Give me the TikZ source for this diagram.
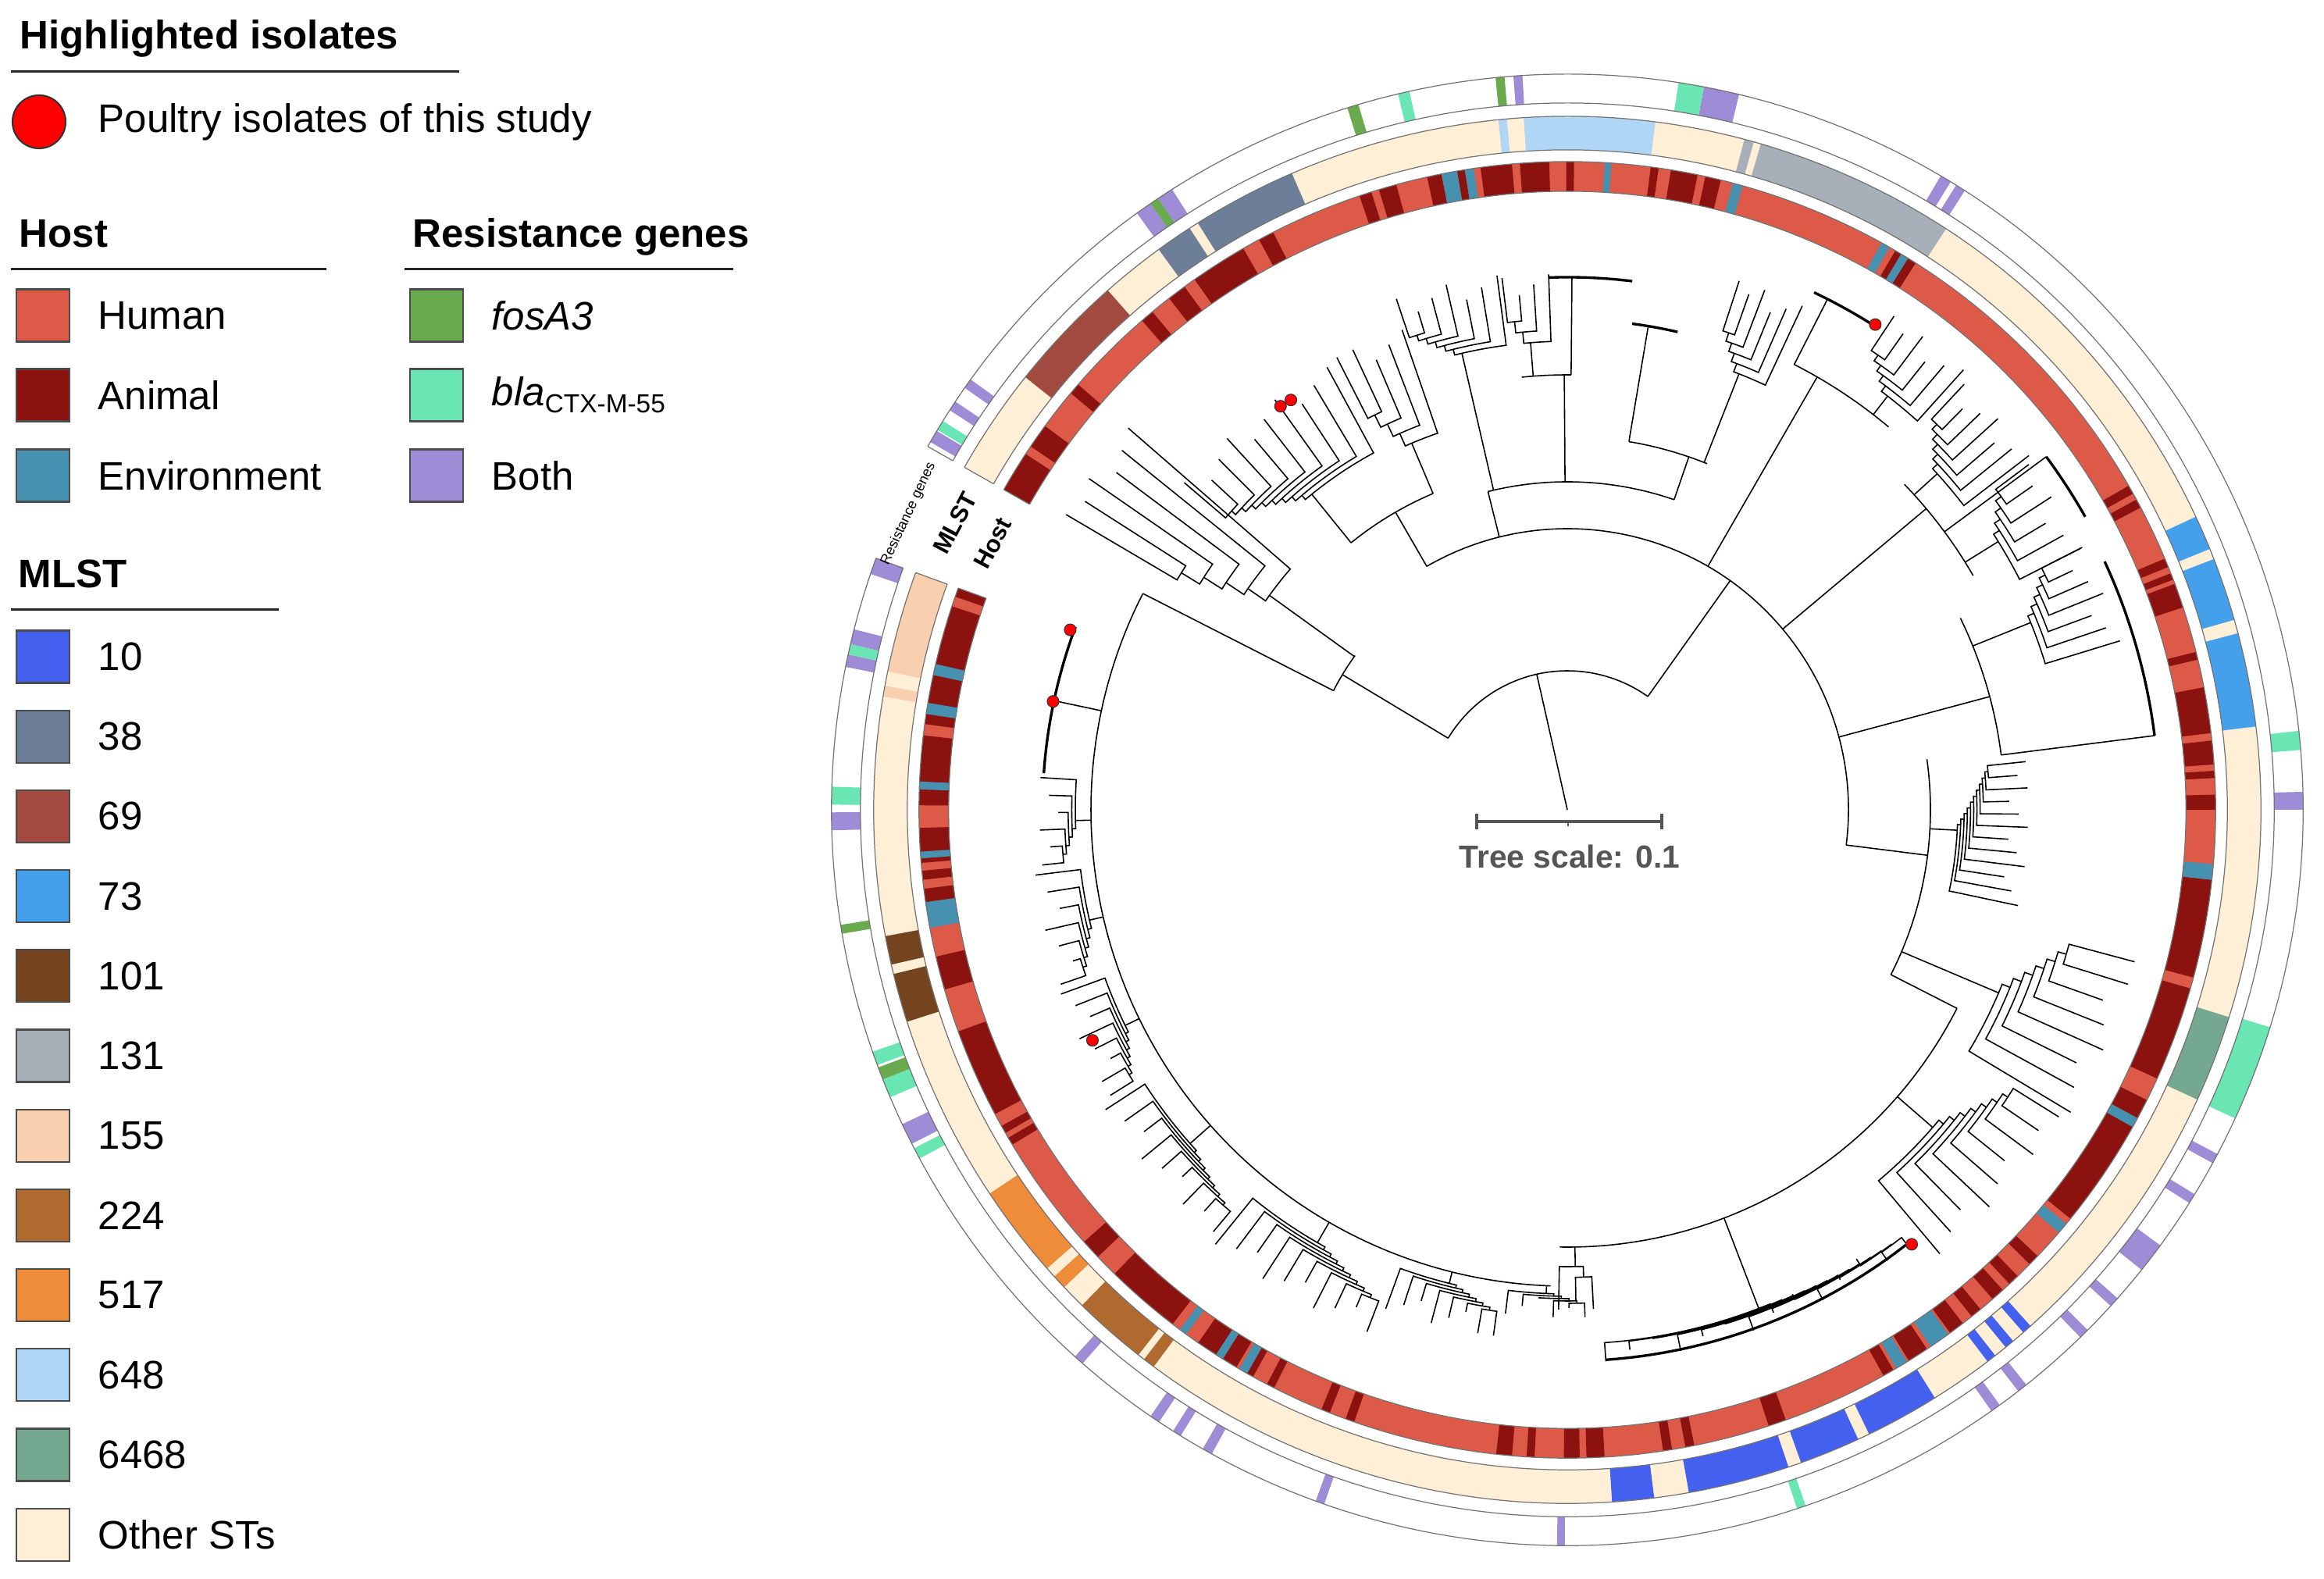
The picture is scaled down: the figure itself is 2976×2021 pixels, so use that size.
\documentclass[tikz,border=0pt]{standalone}
\usepackage{fontspec}
\setmainfont{Liberation Sans}
\usetikzlibrary{positioning}

\definecolor{human}{RGB}{222,90,72}
\definecolor{animal}{RGB}{140,18,16}
\definecolor{environ}{RGB}{70,145,175}
\definecolor{fosgreen}{RGB}{106,170,78}
\definecolor{blagreen}{RGB}{106,230,180}
\definecolor{both}{RGB}{158,140,214}
\definecolor{stten}{RGB}{68,96,238}
\definecolor{stthirtyeight}{RGB}{108,126,152}
\definecolor{stsixtynine}{RGB}{163,74,64}
\definecolor{stseventythree}{RGB}{69,160,236}
\definecolor{stoneohone}{RGB}{116,68,30}
\definecolor{stonethirtyone}{RGB}{167,176,184}
\definecolor{stonefiftyfive}{RGB}{248,208,176}
\definecolor{sttwotwentyfour}{RGB}{176,105,46}
\definecolor{stfiveseventeen}{RGB}{238,140,58}
\definecolor{stsixfortyeight}{RGB}{176,214,246}
\definecolor{stsixtyfoursixtyeight}{RGB}{116,168,144}
\definecolor{stother}{RGB}{254,239,214}
\definecolor{scalegray}{RGB}{85,85,85}

% one coloured piece of a ring: start angle, end angle, inner r, outer r, colour
\newcommand{\ringseg}[5]{\fill[#5] (#1:#3) arc[start angle=#1,end angle=#2,radius=#3] -- (#2:#4) arc[start angle=#2,end angle=#1,radius=#4] -- cycle;}
% a ladderised clade: from angle, to angle, parent r, base r, tip r, number of tips
\newcommand{\ladder}[6]{%
  \pgfmathsetmacro{\ldt}{(#2-#1)/(#6-1)}%
  \pgfmathsetmacro{\ldr}{(#5-#4)*0.5/(#6-1)}%
  \pgfmathsetmacro{\ldm}{(#1+#2)/2}%
  \draw[branch] (\ldm:#3) -- (\ldm:#4);
  \pgfmathtruncatemacro{\ldlast}{#6-2}%
  \foreach \k in {0,...,\ldlast}{%
    \pgfmathsetmacro{\lta}{#1+\k*\ldt}%
    \pgfmathsetmacro{\lrk}{#4+\k*\ldr}%
    \pgfmathsetmacro{\lrn}{#4+(\k+1)*\ldr}%
    \pgfmathsetmacro{\ltip}{#5-12*mod(\k,3)}%
    \ifnum\k<\ldlast
      \pgfmathsetmacro{\lte}{(#1+(\k+1)*\ldt+#2)/2}%
      \draw[branch] (\lta:\ltip) -- (\lta:\lrk) arc[start angle=\lta,end angle=\lte,radius=\lrk] -- (\lte:\lrn);
    \else
      \draw[branch] (\lta:\ltip) -- (\lta:\lrk) arc[start angle=\lta,end angle=#2,radius=\lrk] -- (#2:#5);
    \fi
  }}

\begin{document}
\begin{tikzpicture}[x=0.01cm,y=0.01cm,
  legtext/.style={inner sep=0pt,font=\fontsize{14.5}{17}\selectfont},
  leghead/.style={inner sep=0pt,anchor=base west,font=\fontsize{14.5}{17}\selectfont\bfseries},
  legbox/.style={draw=black!70,line width=0.6pt,minimum width=0.68cm,minimum height=0.67cm,inner sep=0pt},
  legrule/.style={line width=0.85pt,black!85},
  branch/.style={draw=black,line width=0.45pt},
  tipband/.style={draw=black,line width=0.95pt},
  ringline/.style={draw=black!55,line width=0.35pt},
  isolate/.style={circle,fill=red,draw=black!80,line width=0.3pt,inner sep=0pt,minimum size=0.15cm}]
\useasboundingbox (0,0) rectangle (2976,2021);

% ---------------- legend ----------------
\node[leghead] (hlhead) at (25,1958) {Highlighted isolates};
\draw[legrule] (14,1929.5) -- (588,1929.5);
\node[circle,fill=red,draw=black!80,line width=0.6pt,minimum size=0.68cm,inner sep=0pt] (hldot) at (50,1865) {};
\node[legtext,anchor=west,right=0.4cm of hldot] (hltext) {Poultry isolates of this study};

\node[leghead] (hosthead) at (24,1704) {Host};
\draw[legrule] (14,1676) -- (418,1676);
\node[leghead] (reshead) at (528,1704) {Resistance genes};
\draw[legrule] (518,1676) -- (939,1676);

\node[legbox,fill=human] (sqhuman) at (55,1617) {};
\node[legbox,fill=animal] (sqanimal) at (55,1515) {};
\node[legbox,fill=environ] (sqenv) at (55,1412) {};
\node[legtext,anchor=west,right=0.35cm of sqhuman] {Human};
\node[legtext,anchor=west,right=0.35cm of sqanimal] {Animal};
\node[legtext,anchor=west,right=0.35cm of sqenv] {Environment};

\node[legbox,fill=fosgreen] (sqfos) at (559,1617) {};
\node[legbox,fill=blagreen] (sqbla) at (559,1515) {};
\node[legbox,fill=both] (sqboth) at (559,1412) {};
\node[legtext,anchor=west,right=0.35cm of sqfos] {\itshape fosA3};
\node[legtext,anchor=west,right=0.35cm of sqbla] {\itshape bla\upshape\raisebox{-2.5pt}{\fontsize{9.5}{10}\selectfont CTX-M-55}};
\node[legtext,anchor=west,right=0.35cm of sqboth] {Both};

\node[leghead] (mlsthead) at (23,1268) {MLST};
\draw[legrule] (14,1240) -- (357,1240);
\foreach \st/\col [count=\i from 0] in {10/stten,38/stthirtyeight,69/stsixtynine,73/stseventythree,
    101/stoneohone,131/stonethirtyone,155/stonefiftyfive,224/sttwotwentyfour,517/stfiveseventeen,
    648/stsixfortyeight,6468/stsixtyfoursixtyeight,Other STs/stother}{
  \node[legbox,fill=\col] (sq\i) at (55,1180-\i*102.2) {};
  \node[legtext,anchor=west,right=0.35cm of sq\i] {\st};
}

% ---------------- circular tree ----------------
\begin{scope}[shift={(2007,984)}]
% host ring
\ringseg{160}{510.4}{792}{830}{human}
\foreach \a/\b in {160/160.8,161.7/172.4,173.4/179.6,181.6/184.7,185.4/186.2,187.0/188.2,193.1/196.1,
  200.0/208.0,209.2/209.9,210.4/211.1,221.8/223.6,225.7/232.5,235.3/237.2,237.9/239.3,240.4/241.0,
  242.4/243.1,247.7/248.5,250.0/250.8,263.7/265.1,266.4/267.1,269.7/271.1,271.7/273.3,278.5/279.3,
  280.5/281.3,288.1/289.7,299.2/300.2,301.8/303.7,306.2/307.6,308.6/309.6,311.0/312.2,313.0/314.0,
  315.5/316.5,320.9/331.1,331.6/333.4,335.5/344.0,345.0/353.8,360/361.34,362.81/363.45,364.01/366.13,
  366.8/370.9,373.4/374.1,378.2/380.4,380.8/381.4,382.0/382.8,387.8/388.6,389.2/390.0,417.5/418.3,
  419.0/419.6,436.3/437.7,438.4/440.8,441.9/442.6,449.4/450.1,451.6/454.2,454.9/457.7,459.1/459.8,
  461.2/462.5,465.3/466.9,467.6/468.7,477.0/478.4,480.0/485.1,486.2/487.9,489.8/491.0,499.0/500.0,
  503.7/505.9,506.7/510.4}{\ringseg{\a}{\b}{792}{830}{animal}}
\foreach \a/\b in {167/168,170.5/171.5,177.5/178.2,183.7/184.3,188.2/190.5,233.3/234.0,237.2/237.9,
  239.6/240.4,300.5/301.6,304.1/306.0,319.3/320.3,330.7/331.6,353.8/355.2,418.3/419.0,420.2/421.0,
  434.3/435.2,446.1/446.7,458.3/459.1,459.8/461.2}{\ringseg{\a}{\b}{792}{830}{environ}}

% MLST ring
\ringseg{160}{510.4}{845}{888}{stother}
\foreach \a/\b/\c in {160/168.5/stonefiftyfive,169.7/170.6/stonefiftyfive,190.5/192.9/stoneohone,
  193.7/197.8/stoneohone,213.6/221.4/stfiveseventeen,222.3/223.5/stfiveseventeen,
  225.6/231.8/sttwotwentyfour,232.4/233.4/sttwotwentyfour,273.7/277.2/stten,280.1/288.6/stten,
  289.7/294.8/stten,295.8/302.0/stten,307.3/308.1/stten,309.2/310.0/stten,311.1/311.9/stten,
  335.3/342.6/stsixtyfoursixtyeight,366.9/374.75/stseventythree,375.9/381.2/stseventythree,
  382.1/385.0/stseventythree,416.9/433.8/stonethirtyone,434.4/435.2/stonethirtyone,
  442.7/453.6/stsixfortyeight,455.0/455.7/stsixfortyeight,473.4/482.2/stthirtyeight,
  483.0/486.1/stthirtyeight,491.5/501.4/stsixtynine}{\ringseg{\a}{\b}{845}{888}{\c}}

% resistance genes ring
\foreach \a/\b in {160.0/161.3,165.8/167.0,167.8/168.8,180.2/181.6,205.3/207.0,228.0/228.8,235.5/236.3,
  237.6/238.3,240.3/241.1,250.0/250.7,269.2/269.8,305.2/306.0,307.8/308.6,314.2/315.0,317.6/318.4,
  321.3/323.7,327.7/328.5,331.3/332.1,360.0/361.4,417.3/418.1,418.6/419.5,436.5/439.3,453.5/454.2,
  482.5/483.8,484.5/485.8,504.2/505.0,506.3/507.1,509.0/510.0}{\ringseg{\a}{\b}{905}{942}{both}}
\foreach \a/\b in {167.0/167.8,178.2/179.6,199.2/200.3,201.5/203.0,207.4/208.3,288.2/288.9,335.2/342.8,
  364.67/366.16,439.3/441.3,462.4/463.3,508.1/508.9}{\ringseg{\a}{\b}{905}{942}{blagreen}}
\foreach \a/\b in {189.0/189.7,200.5/201.5,454.9/455.6,466.5/467.4,483.8/484.5}{\ringseg{\a}{\b}{905}{942}{fosgreen}}

% ring outlines
\foreach \r in {792,830,845,888,905,942}{
  \draw[ringline] (160:\r) arc[start angle=160,end angle=510.4,radius=\r];}
\foreach \a in {160,510.4}{
  \draw[ringline] (\a:792) -- (\a:830) (\a:845) -- (\a:888) (\a:905) -- (\a:942);}

% ring titles in the gap
\node[rotate=62,inner sep=0pt,font=\fontsize{8.8}{10}\selectfont\bfseries] (hostlbl) at (155.1:811) {Host};
\node[rotate=62,inner sep=0pt,font=\fontsize{8.8}{10}\selectfont\bfseries] (mlstlbl) at (154.9:866) {MLST};
\node[rotate=65,inner sep=0pt,font=\fontsize{5.1}{6}\selectfont] (reslbl) at (155.8:925) {Resistance genes};

% ---- tree: root and first split
\coordinate (root) at (0,0);
\draw[branch] (root) -- (102.7:178);
\draw[branch] (54.6:178) arc[start angle=54.6,end angle=149,radius=178];
% ---- left subtree
\draw[branch] (149:178) -- (149:336);
\draw[branch] (144:336) arc[start angle=144,end angle=153,radius=336];
\ladder{139}{149.5}{336}{470}{745}{6}
\draw[branch] (153:336) -- (153:610);
\draw[branch] (153:610) arc[start angle=153,end angle=268,radius=610];
\draw[branch] (168:610) -- (168:672);
\draw[tipband] (159.6:672) arc[start angle=159.6,end angle=176,radius=672];
\ladder{176.5}{186}{610}{630}{676}{6}
\ladder{187}{199}{610}{628}{686}{7}
\ladder{200}{212}{610}{630}{690}{8}
\ladder{213}{230}{610}{645}{705}{9}
\ladder{231}{249}{610}{640}{716}{10}
\ladder{250}{262}{610}{625}{680}{8}
\ladder{263}{272}{610}{620}{650}{6}
% ---- right subtree
\draw[branch] (54.6:178) -- (54.6:360);
\draw[branch] (-7.2:360) arc[start angle=-7.2,end angle=120,radius=360];
% clade with the two upper isolates
\draw[branch] (120:360) -- (120:440);
\draw[branch] (113:440) arc[start angle=113,end angle=129,radius=440];
\ladder{109}{117}{440}{510}{650}{5}
\ladder{118.5}{139.5}{440}{520}{645}{10}
% top clades
\draw[branch] (104:360) -- (104:420);
\draw[branch] (71:420) arc[start angle=71,end angle=104,radius=420];
\ladder{97.5}{108.5}{420}{600}{690}{7}
\draw[branch] (90.4:420) -- (90.4:557);
\draw[branch] (89.5:557) arc[start angle=89.5,end angle=96,radius=557];
\draw[branch] (89.5:557) -- (89.5:682);
\draw[tipband] (83:682) arc[start angle=83,end angle=92,radius=682];
\ladder{92}{97}{557}{600}{686}{4}
\draw[branch] (71:420) -- (71:478);
\draw[branch] (68:478) arc[start angle=68,end angle=80.5,radius=478];
\draw[branch] (80.5:478) -- (80.5:628);
\draw[tipband] (77:628) arc[start angle=77,end angle=82.4,radius=628];
\ladder{65}{72}{478}{600}{712}{6}
% upper right clades
\draw[branch] (60:360) -- (60:640);
\draw[branch] (50:640) arc[start angle=50,end angle=63,radius=640];
\draw[branch] (63:640) -- (63:734);
\draw[tipband] (57.5:734) arc[start angle=57.5,end angle=64.5,radius=734];
\ladder{48}{56.5}{640}{670}{758}{6}
\draw[branch] (40:360) -- (40:600);
\draw[branch] (30:600) arc[start angle=30,end angle=44,radius=600];
\ladder{37.5}{47}{600}{640}{745}{7}
\ladder{27}{36.8}{600}{650}{738}{6}
\draw[branch] (36.4:600) -- (36.4:762);
\draw[tipband] (29.5:762) arc[start angle=29.5,end angle=36.4,radius=762];
\draw[branch] (15:360) -- (15:560);
\draw[branch] (7.2:560) arc[start angle=7.2,end angle=26,radius=560];
\ladder{17}{27}{560}{640}{740}{7}
\draw[branch] (7.2:560) -- (7.2:758);
\draw[tipband] (7.2:758) arc[start angle=7.2,end angle=24.8,radius=758];
% right clades
\draw[branch] (-7.2:360) -- (-7.2:465);
\draw[branch] (-27:465) arc[start angle=-27,end angle=8,radius=465];
\ladder{-12}{6}{465}{500}{590}{12}
\ladder{-31}{-15}{465}{600}{752}{8}
\draw[branch] (-27:465) -- (-27:560);
\draw[branch] (-91:560) arc[start angle=-91,end angle=-27,radius=560];
\ladder{-86}{-52}{560}{684}{708}{14}
\draw[tipband] (-86:706) arc[start angle=-86,end angle=-52,radius=706];
\ladder{-50}{-32}{560}{620}{742}{9}
\ladder{-91}{-87}{560}{585}{640}{3}

% poultry isolates of this study
\node[isolate] (iso1) at (160.1:677) {};
\node[isolate] (iso2) at (168.1:673) {};
\node[isolate] (iso3) at (205.9:676) {};
\node[isolate] (iso4) at (125.4:634) {};
\node[isolate] (iso5) at (124.0:633) {};
\node[isolate] (iso6) at (57.6:736) {};
\node[isolate] (iso7) at (308.4:710) {};
\end{scope}

% tree scale
\draw[scalegray,line width=1.1pt] (1891,969) -- (2128,969);
\draw[scalegray,line width=1.1pt] (1891,959) -- (1891,979) (2128,959) -- (2128,979);
\draw[scalegray,line width=0.6pt] (2008,969) -- (2008,963);
\node[inner sep=0pt,text=scalegray,font=\fontsize{11.6}{14}\selectfont\bfseries] (scalelbl) at (2010,924) {Tree scale: 0.1};
\end{tikzpicture}
\end{document}
